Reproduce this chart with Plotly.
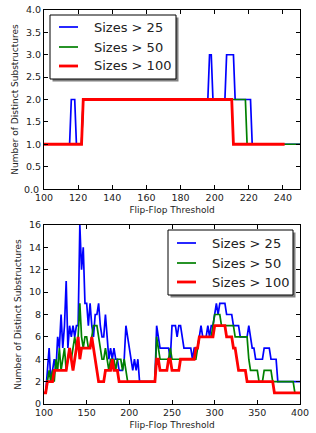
import plotly.graph_objects as go

# ---------- top panel data (breakpoints) ----------
top_x_25 = [100, 115, 116, 118, 119, 122, 123, 196, 197, 198, 199, 206, 207, 211, 212, 221, 222, 250]
top_y_25 = [1, 1, 2, 2, 1, 1, 2, 2, 3, 3, 2, 2, 3, 3, 2, 2, 1, 1]
top_x_50 = [100, 122, 123, 218, 219, 250]
top_y_50 = [1, 1, 2, 2, 1, 1]
top_x_100 = [100, 122, 123, 210, 211, 241]
top_y_100 = [1, 1, 2, 2, 1, 1]

# ---------- bottom panel data (threshold 100..400 step 2) ----------
bot_x = list(range(100, 401, 2))
bot_y_25 = [
    1, 1, 3, 5, 2,   3, 4, 3, 6, 5,   8, 5, 7, 11, 5,  7, 6, 7, 6, 7,
    7, 16, 12, 14, 9,  9, 7, 9, 7, 6,  8, 8, 9, 7, 6,  6, 8, 6, 4, 5,
    4, 5, 4, 4, 3,   3, 3, 4, 7, 6,   5, 4, 3, 4, 3,   4, 2, 2, 2, 2,
    2, 2, 2, 2, 2,   2, 7, 6, 5, 5,   5, 5, 5, 5, 4,   7, 7, 7, 6, 7,
    7, 6, 5, 5, 5,   5, 5, 4, 5, 5,   5, 6, 7, 6, 6,   6, 7, 6, 7, 7,
    8, 9, 8, 9, 9,   9, 9, 8, 8, 8,   8, 7, 7, 7, 7,   6, 6, 6, 6, 6,
    7, 6, 5, 5, 4,   4, 4, 4, 4, 5,   5, 5, 5, 4, 4,   4, 4, 2, 2, 2,
    2, 2, 2, 2, 2,   2, 2, 2, 2, 2,   2]
bot_y_50 = [
    1, 1, 2, 3, 2,   3, 2, 4, 3, 5,   3, 4, 5, 3, 4,   5, 4, 5, 6, 5,
    6, 9, 6, 5, 6,   6, 5, 5, 6, 7,   7, 7, 6, 5, 4,   4, 5, 4, 3, 4,
    4, 4, 3, 4, 4,   4, 3, 4, 3, 2,   2, 2, 2, 2, 2,   2, 2, 2, 2, 2,
    2, 2, 2, 2, 2,   2, 6, 5, 4, 4,   4, 4, 4, 4, 5,   4, 4, 4, 4, 4,
    4, 4, 4, 4, 4,   4, 4, 4, 4, 4,   5, 6, 6, 6, 6,   6, 6, 6, 6, 7,
    8, 8, 8, 8, 7,   7, 7, 7, 7, 7,   7, 7, 6, 6, 6,   6, 6, 6, 6, 6,
    4, 3, 3, 3, 3,   3, 2, 2, 2, 3,   3, 3, 3, 3, 2,   2, 2, 2, 2, 2,
    2, 2, 2, 2, 2,   2, 2, 1, 1, 1,   1]
bot_y_100 = [
    1, 1, 2, 2, 2,   2, 3, 3, 3, 3,   3, 3, 3, 3, 4,   5, 4, 3, 4, 5,
    6, 4, 5, 5, 5,   5, 5, 5, 6, 5,   4, 3, 2, 2, 2,   2, 3, 3, 3, 3,
    4, 3, 3, 3, 2,   2, 2, 2, 2, 2,   2, 2, 2, 2, 2,   2, 2, 2, 2, 2,
    2, 2, 2, 2, 2,   2, 4, 4, 3, 3,   3, 3, 3, 4, 4,   3, 3, 3, 3, 3,
    4, 4, 4, 4, 4,   4, 4, 4, 4, 5,   5, 6, 6, 6, 6,   6, 6, 6, 6, 6,
    7, 7, 7, 7, 7,   7, 7, 6, 6, 6,   6, 5, 5, 4, 3,   3, 3, 3, 3, 2,
    2, 2, 2, 2, 2,   2, 2, 2, 2, 2,   2, 2, 2, 2, 2,   1, 1, 1, 1, 1,
    1, 1, 1, 1, 1,   1, 1, 1, 1, 1,   1]

top_y_ticks = [0.0, 0.5, 1.0, 1.5, 2.0, 2.5, 3.0, 3.5, 4.0]

names = ["Sizes > 25", "Sizes > 50", "Sizes > 100"]
colors = ["#0000ff", "#008000", "#ff0000"]
widths = [1.7, 1.7, 2.8]

W, H = 316, 433
fig = go.Figure()

top_sets = [(top_x_25, top_y_25), (top_x_50, top_y_50), (top_x_100, top_y_100)]
bot_sets = [(bot_x, bot_y_25), (bot_x, bot_y_50), (bot_x, bot_y_100)]
for i, (xs, ys) in enumerate(top_sets):
    fig.add_trace(go.Scatter(x=xs, y=ys, mode="lines", name=names[i], showlegend=False,
                             line=dict(color=colors[i], width=widths[i]),
                             xaxis="x", yaxis="y"))
for i, (xs, ys) in enumerate(bot_sets):
    fig.add_trace(go.Scatter(x=xs, y=ys, mode="lines", name=names[i], showlegend=False,
                             line=dict(color=colors[i], width=widths[i]),
                             xaxis="x2", yaxis="y2"))


def px_x(p):
    return p / W


def px_y(p):
    return 1 - p / H


axis_common = dict(showline=True, linecolor="black", linewidth=1, mirror="allticks",
                   ticks="inside", ticklen=4, tickcolor="black", showgrid=False,
                   zeroline=False, automargin=False, ticklabeloverflow="allow",
                   tickfont=dict(size=9.5, color="#222"),
                   title_font=dict(size=9, color="#222"))

# lowest label of the top panel is drawn as an annotation (plotly hides it at the corner)
top_y_text = [""] + ["%.1f" % v for v in top_y_ticks[1:]]

EPS = 1e-4
fig.update_layout(
    width=W, height=H,
    margin=dict(l=0, r=0, t=0, b=0),
    paper_bgcolor="white", plot_bgcolor="white",
    font=dict(family="DejaVu Sans", color="#222"),
    showlegend=False,
    xaxis=dict(domain=[px_x(44), px_x(300)], range=[100 - EPS, 250 + EPS], dtick=20, tick0=100,
               anchor="y", title=dict(text="Flip-Flop Threshold", standoff=4), **axis_common),
    yaxis=dict(domain=[px_y(189), px_y(10)], range=[0 - EPS, 4 + EPS],
               tickvals=top_y_ticks, ticktext=top_y_text, anchor="x",
               title=dict(text="Number of Distinct Substructures", standoff=5),
               **axis_common),
    xaxis2=dict(domain=[px_x(44), px_x(300)], range=[100 - EPS, 400 + EPS], dtick=50, tick0=100,
                anchor="y2", title=dict(text="Flip-Flop Threshold", standoff=4), **axis_common),
    yaxis2=dict(domain=[px_y(404), px_y(225)], range=[0 - EPS, 16 + EPS], dtick=2, tick0=0,
                anchor="x2", title=dict(text="Number of Distinct Substructures", standoff=5),
                **axis_common),
)

fig.add_annotation(xref="paper", yref="y", x=px_x(41), y=top_y_ticks[0],
                   xanchor="right", yanchor="middle", showarrow=False,
                   text="%.1f" % top_y_ticks[0], font=dict(size=9.5, color="#222"))

# manual legends (matplotlib style with shadow)
legend_boxes = [
    dict(box=(50, 15, 176, 79), lx=(59, 78), tx=92, rows=(27, 47, 66)),
    dict(box=(168, 230, 293, 295), lx=(177, 196), tx=210, rows=(243, 263, 282)),
]
for lg in legend_boxes:
    x0, y0, x1, y1 = lg["box"]
    fig.add_shape(type="rect", xref="paper", yref="paper",
                  x0=px_x(x0 + 2.5), x1=px_x(x1 + 2.5), y0=px_y(y1 + 2.5), y1=px_y(y0 + 2.5),
                  fillcolor="#808080", line=dict(width=0), layer="above")
    fig.add_shape(type="rect", xref="paper", yref="paper",
                  x0=px_x(x0), x1=px_x(x1), y0=px_y(y1), y1=px_y(y0),
                  fillcolor="white", line=dict(color="black", width=1), layer="above")
    for i, ry in enumerate(lg["rows"]):
        fig.add_shape(type="line", xref="paper", yref="paper",
                      x0=px_x(lg["lx"][0]), x1=px_x(lg["lx"][1]), y0=px_y(ry), y1=px_y(ry),
                      line=dict(color=colors[i], width=widths[i]), layer="above")
        fig.add_annotation(xref="paper", yref="paper", x=px_x(lg["tx"]), y=px_y(ry),
                           xanchor="left", yanchor="middle", showarrow=False,
                           text=names[i], font=dict(size=13, color="#222"))

fig.write_html("out.html", config={"displayModeBar": False},
               post_script="document.body.style.margin='0px';")
